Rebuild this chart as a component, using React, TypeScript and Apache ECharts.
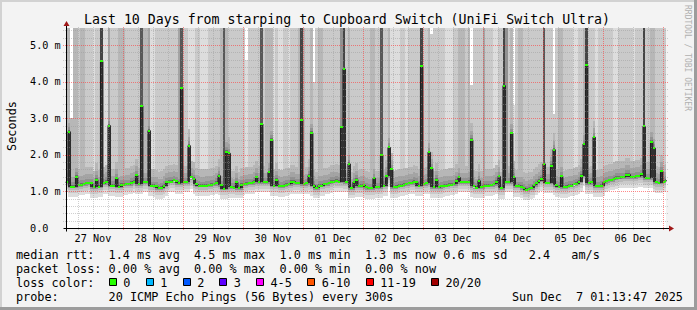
import React, { useEffect, useRef } from "react";
import * as echarts from "echarts";

// ---- time axis (hours counted from 27 Nov 00:00) ----
const START_HOUR = 1.2297; // 27 Nov 01:13:47
const END_HOUR = 241.2297; // 07 Dec 01:13:47
const Y_MAX = 5.4645;

const DAY_LABELS = ["27 Nov", "28 Nov", "29 Nov", "30 Nov", "01 Dec", "02 Dec", "03 Dec", "04 Dec", "05 Dec", "06 Dec"];
const DAY_LABEL_HOURS = [12, 36, 60, 84, 108, 132, 156, 180, 204, 228];
const MIDNIGHT_HOURS = [24, 48, 72, 96, 120, 144, 168, 192, 216, 240];
const SIX_HOUR_HOURS = [6, 12, 18, 30, 36, 42, 54, 60, 66, 78, 84, 90, 102, 108, 114, 126, 132, 138, 150, 156, 162, 174, 180, 186, 198, 204, 210, 222, 228, 234];
const Y_TICKS = [0, 1, 2, 3, 4, 5];
const Y_MAJOR_LINES = [1, 2, 3, 4, 5];
const Y_MINOR_LINES = [0.2, 0.4, 0.6, 0.8, 1.2, 1.4, 1.6, 1.8, 2.2, 2.4, 2.6, 2.8, 3.2, 3.4, 3.6, 3.8, 4.2, 4.4, 4.6, 4.8, 5.2, 5.4];

// ---- hourly median rtt (ms), bins starting at hour 1 .. 241 ----
const MEDIAN = [
  1.25, 2.63, 1.13, 1.13, 1.40, 1.17, 1.18, 1.20, 1.22, 1.22,
  1.22, 1.11, 1.32, 1.13, 4.55, 1.22, 1.27, 2.80, 1.16, 1.16,
  1.36, 1.13, 1.18, 1.18, 1.20, 1.20, 1.24, 1.27, 1.44, 1.20,
  3.34, 1.25, 1.25, 2.66, 1.15, 1.15, 1.14, 1.08, 1.10, 1.16,
  1.25, 1.27, 1.27, 1.30, 1.28, 1.22, 3.83, 1.25, 1.25, 2.25,
  1.38, 1.34, 1.20, 1.16, 1.15, 1.15, 1.16, 1.17, 1.18, 1.20,
  1.24, 1.43, 1.17, 1.07, 2.09, 2.04, 1.11, 1.10, 1.25, 1.09,
  1.18, 1.20, 1.21, 1.22, 1.22, 1.27, 1.38, 1.25, 2.84, 1.25,
  1.25, 1.52, 2.41, 1.16, 1.32, 1.16, 1.14, 1.16, 1.18, 1.20,
  1.27, 1.27, 1.22, 1.22, 2.96, 1.20, 1.22, 1.43, 2.60, 1.16,
  1.09, 1.16, 1.16, 1.20, 1.20, 1.23, 1.27, 1.27, 1.29, 1.26,
  2.75, 4.34, 1.25, 1.75, 1.09, 1.25, 1.32, 1.14, 1.16, 1.17,
  1.11, 1.08, 1.08, 1.36, 1.11, 1.11, 2.00, 1.16, 1.41, 2.20,
  1.60, 1.11, 1.13, 1.16, 1.16, 1.18, 1.20, 1.22, 1.22, 1.27,
  1.25, 1.16, 4.42, 1.20, 1.22, 2.07, 1.63, 1.11, 1.32, 1.11,
  1.14, 1.16, 1.16, 1.18, 1.18, 1.20, 1.29, 1.38, 1.25, 1.25,
  1.25, 1.27, 2.41, 1.14, 1.10, 1.29, 1.11, 1.16, 1.16, 1.16,
  1.17, 1.20, 1.27, 1.41, 1.08, 3.89, 1.25, 1.25, 2.59, 1.38,
  1.14, 1.15, 1.13, 1.09, 1.04, 1.07, 1.09, 1.17, 1.23, 1.29,
  1.34, 1.75, 1.23, 1.23, 1.70, 2.14, 1.17, 1.13, 1.41, 1.11,
  1.13, 1.16, 1.16, 1.19, 1.21, 1.27, 1.43, 2.29, 4.44, 1.22,
  1.25, 2.48, 1.14, 1.14, 1.16, 1.25, 1.28, 1.31, 1.31, 1.34,
  1.37, 1.37, 1.38, 1.38, 1.46, 1.46, 1.38, 1.38, 1.41, 1.41,
  1.47, 2.78, 1.36, 1.36, 2.36, 2.18, 1.25, 1.23, 1.55, 1.27,
  1.29,
];

// ---- smoke: gray level of the upper part of each hourly column (1 light .. 9 dark) ----
const SHADE = [
  3, 3, 3, 3, 3, 2, 3, 3, 2, 2,
  2, 1, 2, 2, 9, 1, 1, 4, 2, 2,
  2, 3, 3, 3, 2, 2, 2, 2, 2, 2,
  8, 3, 3, 4, 1, 1, 2, 2, 2, 2,
  2, 2, 2, 2, 2, 4, 8, 2, 2, 1,
  1, 1, 2, 2, 1, 1, 1, 2, 2, 2,
  2, 2, 3, 8, 3, 2, 2, 2, 2, 2,
  2, 2, 1, 2, 2, 2, 2, 2, 8, 2,
  3, 3, 3, 1, 2, 1, 1, 2, 2, 1,
  2, 2, 2, 3, 9, 3, 2, 2, 3, 2,
  2, 3, 3, 2, 2, 2, 2, 2, 2, 2,
  5, 9, 2, 3, 2, 2, 2, 2, 2, 2,
  2, 2, 3, 3, 2, 2, 8, 2, 2, 3,
  1, 1, 1, 1, 2, 2, 1, 2, 2, 2,
  2, 2, 9, 2, 2, 3, 2, 2, 2, 2,
  2, 2, 1, 1, 1, 2, 2, 3, 3, 3,
  2, 3, 2, 2, 2, 2, 2, 4, 2, 2,
  2, 1, 1, 2, 2, 9, 5, 2, 3, 1,
  2, 3, 3, 2, 2, 2, 2, 2, 2, 2,
  2, 8, 2, 2, 2, 2, 2, 3, 3, 2,
  2, 2, 2, 1, 1, 2, 2, 3, 9, 2,
  2, 2, 1, 2, 2, 2, 2, 2, 2, 1,
  1, 2, 2, 2, 2, 2, 2, 1, 2, 2,
  2, 9, 2, 2, 3, 3, 2, 2, 2, 2,
  2,
];
// hours whose highest ping stays below the top of the graph, and that ping (ms)
const GAP_HOURS = [3, 73, 100, 147, 163, 180, 196];
const GAP_TOPS = [3.0, 4.6, 4.0, 5.3, 3.9, 3.35, 3.12];

// ---- legend ----
const LOSS_LABELS = ["0", "1", "2", "3", "4-5", "6-10", "11-19", "20/20"];
const LOSS_COLORS = ["#26ff00", "#00b8ff", "#0059ff", "#5e00ff", "#ff00ff", "#ff5500", "#ff0000", "#a10000"];
const LOSS_BOX_X = [108.7, 145.7, 182.7, 219.3, 256, 307.3, 365.7, 431];

const MONO = "'DejaVu Sans Mono', monospace";
const GRAY = ["#ffffff", "#dddddd", "#cacaca", "#b7b7b7", "#a4a4a4", "#919191", "#7e7e7e", "#6b6b6b", "#585858", "#454545", "#323232"];
const GREEN = "#26ff00";

const GL = 66, GT = 28, GW = 600, GH = 200;

function smokeItem(_p: any, api: any) {
  const h = api.value(0), m = api.value(1), b = api.value(2), s = api.value(3), top = api.value(4);
  const xa = Math.round(api.coord([h, 0])[0]);
  const xb = Math.round(api.coord([h + 1, 0])[0]);
  const py = (v: number) => Math.round(api.coord([h, v])[1]);
  const kids: any[] = [];
  const add = (lo: number, hi: number, c: string) => {
    const y1 = py(Math.min(hi, top));
    const y0 = py(lo);
    if (y0 - y1 <= 0) return;
    kids.push({ type: "rect", shape: { x: xa, y: y1, width: xb - xa, height: y0 - y1 }, style: { fill: c } });
  };
  add(b - 0.28, b, GRAY[1]);
  add(b - 0.18, b, GRAY[2]);
  add(b - 0.1, b, GRAY[3]);
  add(b - 0.04, b, GRAY[5]);
  if (s > 0) add(b, top, GRAY[s]);
  const bands: [number, number][] = [[3, 0.45], [4, 0.25], [5, 0.12], [7, 0.04]];
  for (const [lv, d] of bands) if (lv > s) add(m, m + d, GRAY[lv]);
  if (m - b > 0.04) add(b, m, GRAY[10]);
  return { type: "group", children: kids };
}

function medianItem(_p: any, api: any) {
  const h = api.value(0), m = api.value(1);
  const xa = Math.round(api.coord([h, 0])[0]);
  const xb = Math.round(api.coord([h + 1, 0])[0]);
  const y = Math.round(api.coord([h, m])[1]);
  return { type: "rect", shape: { x: xa, y: y - 1, width: xb - xa, height: 2 }, style: { fill: GREEN } };
}

function gridItem(_p: any, api: any) {
  const kind = api.value(0), v = api.value(1), major = api.value(2);
  const color = major ? "rgba(255,60,60,0.6)" : "rgba(150,150,150,0.45)";
  if (kind === 0) {
    const x = Math.round(api.coord([v, 0])[0]) + 0.5;
    const yb = api.coord([v, 0])[1];
    const yt = api.coord([v, Y_MAX])[1];
    return { type: "line", shape: { x1: x, y1: yb + 2, x2: x, y2: yt - 2 }, style: { stroke: color, lineWidth: 1, lineDash: [1, 1] } };
  }
  const y = Math.round(api.coord([START_HOUR, v])[1]) + 0.5;
  const xl = api.coord([START_HOUR, v])[0];
  const xr = api.coord([END_HOUR, v])[0];
  return { type: "line", shape: { x1: xl - 3, y1: y, x2: xr + 2, y2: y }, style: { stroke: color, lineWidth: 1, lineDash: [1, 1] } };
}

function axisItem(_p: any, api: any) {
  const kind = api.value(0);
  const o = api.coord([START_HOUR, 0]);
  const e = api.coord([END_HOUR, Y_MAX]);
  const x0 = Math.round(o[0]) + 0.5, y0 = Math.round(o[1]) + 0.5;
  if (kind === 0) {
    return {
      type: "group",
      children: [
        { type: "line", shape: { x1: x0 - 3, y1: y0, x2: e[0] + 4, y2: y0 }, style: { stroke: "#000", lineWidth: 1 } },
        { type: "polygon", shape: { points: [[e[0] + 3, y0 - 3], [e[0] + 3, y0 + 3], [e[0] + 8, y0]] }, style: { fill: "#a01818" } },
      ],
    };
  }
  return {
    type: "group",
    children: [
      { type: "line", shape: { x1: x0, y1: y0 + 3, x2: x0, y2: e[1] - 3 }, style: { stroke: "#000", lineWidth: 1 } },
      { type: "polygon", shape: { points: [[x0 - 3, e[1] - 2], [x0 + 3, e[1] - 2], [x0, e[1] - 7]] }, style: { fill: "#a01818" } },
    ],
  };
}

function txt(x: number, y: number, text: string, extra: any = {}) {
  return {
    type: "text",
    x,
    y,
    silent: true,
    style: { text, fill: "#000", font: `11.83px ${MONO}`, textAlign: "left", textVerticalAlign: "middle", ...extra },
  };
}

export default function App() {
  const ref = useRef<HTMLDivElement>(null);
  useEffect(() => {
    if (!ref.current) return;
    const chart = echarts.init(ref.current, null, { renderer: "svg" });

    const smokeData = MEDIAN.map((m, i) => {
      const prev = i > 0 ? MEDIAN[i - 1] : m;
      const next = i < MEDIAN.length - 1 ? MEDIAN[i + 1] : m;
      const gi = GAP_HOURS.indexOf(i + 1);
      return [i + 1, m, Math.min(prev, m, next), SHADE[i], gi >= 0 ? GAP_TOPS[gi] : Y_MAX + 1];
    });
    const lineData: number[][] = MEDIAN.map((m, i) => [i + 1, m]);
    lineData.push([MEDIAN.length + 1, MEDIAN[MEDIAN.length - 1]]);
    const gridData: number[][] = [
      ...SIX_HOUR_HOURS.map((h) => [0, h, 0]),
      ...Y_MINOR_LINES.map((v) => [1, v, 0]),
      ...MIDNIGHT_HOURS.map((h) => [0, h, 1]),
      ...Y_MAJOR_LINES.map((v) => [1, v, 1]),
    ];

    const legendRows = [254.5, 268.5, 282.5, 296.5];
    const col = (c: number) => 16 + c * 7.12;
    const g: any[] = [
      // frame
      { type: "rect", shape: { x: 0, y: 0, width: 697, height: 2 }, style: { fill: "#d2d2d2" }, silent: true },
      { type: "rect", shape: { x: 0, y: 0, width: 2, height: 310 }, style: { fill: "#d2d2d2" }, silent: true },
      { type: "rect", shape: { x: 694, y: 0, width: 3, height: 310 }, style: { fill: "#9c9c9c" }, silent: true },
      { type: "rect", shape: { x: 0, y: 307, width: 697, height: 3 }, style: { fill: "#9c9c9c" }, silent: true },
      txt(347, 19, "Last 10 Days from starping to Cupboard Switch (UniFi Switch Ultra)", { textAlign: "center", font: `13.24px ${MONO}` }),
      { ...txt(11.5, 126, "Seconds", { textAlign: "center" }), rotation: Math.PI / 2 },
      { ...txt(687.5, 5, "RRDTOOL / TOBI OETIKER", { fill: "#b0b0b0", font: `8px ${MONO}` }), rotation: -Math.PI / 2 },
      txt(col(0), legendRows[0], "median rtt:"),
      txt(col(13), legendRows[0], "1.4 ms avg"),
      txt(col(25), legendRows[0], "4.5 ms max"),
      txt(col(37), legendRows[0], "1.0 ms min"),
      txt(col(49), legendRows[0], "1.3 ms now"),
      txt(col(60), legendRows[0], "0.6 ms sd"),
      txt(col(72), legendRows[0], "2.4"),
      txt(col(78), legendRows[0], "am/s"),
      txt(col(0), legendRows[1], "packet loss:"),
      txt(col(13), legendRows[1], "0.00 % avg"),
      txt(col(25), legendRows[1], "0.00 % max"),
      txt(col(37), legendRows[1], "0.00 % min"),
      txt(col(49), legendRows[1], "0.00 % now"),
      txt(col(0), legendRows[2], "loss color:"),
      txt(col(0), legendRows[3], "probe:"),
      txt(col(13), legendRows[3], "20 ICMP Echo Pings (56 Bytes) every 300s"),
      txt(512, legendRows[3], "Sun Dec"),
      txt(512 + 9 * 7.12, legendRows[3], "7 01:13:47 2025"),
    ];
    LOSS_LABELS.forEach((lab, i) => {
      const bx = Math.round(LOSS_BOX_X[i]) + 0.5;
      g.push({ type: "rect", shape: { x: bx, y: 278.5, width: 7, height: 7 }, style: { fill: LOSS_COLORS[i], stroke: "#000", lineWidth: 1 }, silent: true });
      g.push(txt(LOSS_BOX_X[i] + 14.5, legendRows[2], lab));
    });

    chart.setOption({
      animation: false,
      backgroundColor: "#f3f3f3",
      grid: { left: GL, top: GT, width: GW, height: GH, show: true, backgroundColor: "#ffffff", borderWidth: 0 },
      xAxis: {
        type: "value",
        min: START_HOUR,
        max: END_HOUR,
        axisLine: { show: false },
        axisTick: { show: false },
        splitLine: { show: false },
        axisLabel: {
          customValues: DAY_LABEL_HOURS,
          formatter: (v: number) => {
            const i = DAY_LABEL_HOURS.indexOf(Math.round(v));
            return i >= 0 ? DAY_LABELS[i] : "";
          },
          fontFamily: MONO,
          fontSize: 10.2,
          color: "#000",
          margin: 5,
        },
      },
      yAxis: {
        type: "value",
        min: 0,
        max: Y_MAX,
        interval: 1,
        axisLine: { show: false },
        axisTick: { show: false },
        splitLine: { show: false },
        axisLabel: {
          customValues: Y_TICKS,
          formatter: (v: number) => (v === 0 ? "0.0" : v.toFixed(1) + " m"),
          align: "left",
          margin: 36,
          fontFamily: MONO,
          fontSize: 10.2,
          color: "#000",
        },
      },
      series: [
        { type: "custom", renderItem: smokeItem, data: smokeData, clip: true, z: 2, silent: true },
        { type: "line", data: lineData, step: "end", symbol: "none", lineStyle: { color: "#202020", width: 1 }, clip: true, z: 3, silent: true },
        { type: "custom", renderItem: medianItem, data: smokeData, clip: true, z: 4, silent: true },
        { type: "custom", renderItem: gridItem, data: gridData, clip: false, z: 5, silent: true },
        { type: "custom", renderItem: axisItem, data: [[0, 0], [1, 0]], clip: false, z: 6, silent: true },
      ],
      graphic: { elements: g },
    });
    return () => chart.dispose();
  }, []);
  return <div ref={ref} style={{ position: "fixed", left: 0, top: 0, width: 697, height: 310 }} />;
}
